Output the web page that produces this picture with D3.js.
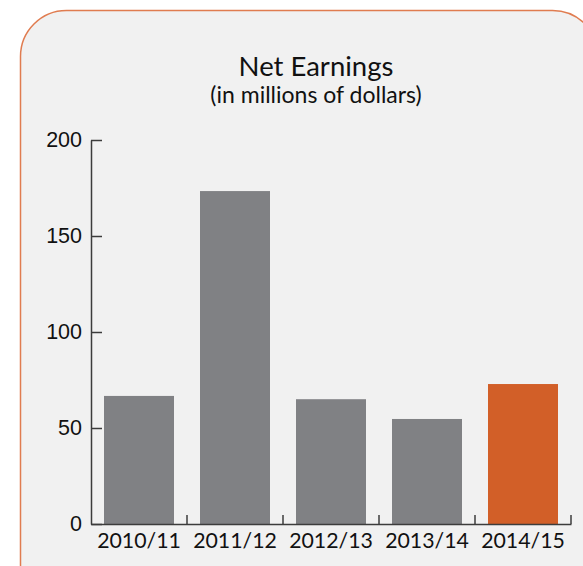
<!DOCTYPE html>
<html>
<head>
<meta charset="utf-8">
<script src="https://cdn.jsdelivr.net/npm/d3@7"></script>
<style>
  html, body { margin: 0; padding: 0; background: #ffffff; }
  svg { display: block; }
</style>
</head>
<body>
<svg id="chart" width="583" height="566"></svg>
<script>
// Net earnings by fiscal year, in millions of dollars
const years = ["2010/11", "2011/12", "2012/13", "2013/14", "2014/15"];
const earnings = [66.7, 173.4, 65.0, 54.7, 72.9];
const yTicks = [0, 50, 100, 150, 200];
const highlightYear = "2014/15";

const rows = years.map((year, i) => ({ year, value: earnings[i] }));

const svg = d3.select("#chart");

// Rounded panel, running off the right and bottom edges
svg.append("rect")
  .attr("x", 20.5).attr("y", 10.5)
  .attr("width", 578).attr("height", 600)
  .attr("rx", 46).attr("ry", 46)
  .attr("fill", "#f1f1f1")
  .attr("stroke", "#e07c50")
  .attr("stroke-width", 1.5);

const plot = { left: 91, right: 571, top: 140, bottom: 524 };

const x = d3.scaleBand()
  .domain(years)
  .range([plot.left, plot.right])
  .paddingInner(26 / 96)
  .paddingOuter(13 / 96);

const y = d3.scaleLinear()
  .domain([0, 200])
  .range([plot.bottom, plot.top]);

// Titles
svg.append("text")
  .attr("x", 316).attr("y", 76)
  .attr("text-anchor", "middle")
  .attr("font-family", "Lato, sans-serif")
  .attr("font-size", 27.5)
  .attr("fill", "#111")
  .text("Net Earnings");

svg.append("text")
  .attr("x", 316).attr("y", 103)
  .attr("text-anchor", "middle")
  .attr("font-family", "Lato, sans-serif")
  .attr("font-size", 23)
  .attr("fill", "#111")
  .text("(in millions of dollars)");

// Bars
svg.append("g")
  .selectAll("rect")
  .data(rows)
  .join("rect")
  .attr("x", d => x(d.year))
  .attr("y", d => y(d.value))
  .attr("width", x.bandwidth())
  .attr("height", d => y(0) - y(d.value))
  .attr("fill", d => d.year === highlightYear ? "#d25f28" : "#808184");

// Y axis, ticks pointing into the plot
const yAxis = svg.append("g")
  .attr("transform", `translate(${plot.left},0)`)
  .call(d3.axisLeft(y)
    .tickValues(yTicks)
    .tickSizeInner(-11)
    .tickSizeOuter(0)
    .tickPadding(9));
yAxis.select(".domain").attr("stroke", "#3c3c3c").attr("stroke-width", 1.5);
yAxis.selectAll(".tick line").attr("stroke", "#3c3c3c").attr("stroke-width", 1.5);
yAxis.selectAll(".tick text")
  .attr("font-family", "'Liberation Sans', Arial, sans-serif")
  .attr("font-size", 21.5)
  .attr("fill", "#111");

// X axis: category labels centred under bars
const xAxis = svg.append("g")
  .attr("transform", `translate(0,${plot.bottom})`)
  .call(d3.axisBottom(x).tickSize(0).tickPadding(8.5));
xAxis.select(".domain").attr("stroke", "#3c3c3c").attr("stroke-width", 1.5);
xAxis.selectAll(".tick text")
  .attr("font-family", "Lato, sans-serif")
  .attr("font-size", 21.3)
  .attr("fill", "#111");

// Upward ticks at the category boundaries
const gap = x.step() * x.paddingInner() / 2;
const bounds = years.map(d => x(d) + x.bandwidth() + gap);
svg.append("g")
  .selectAll("line")
  .data(bounds)
  .join("line")
  .attr("x1", d => d).attr("x2", d => d)
  .attr("y1", plot.bottom).attr("y2", plot.bottom - 9)
  .attr("stroke", "#3c3c3c")
  .attr("stroke-width", 1.5);
</script>
</body>
</html>
